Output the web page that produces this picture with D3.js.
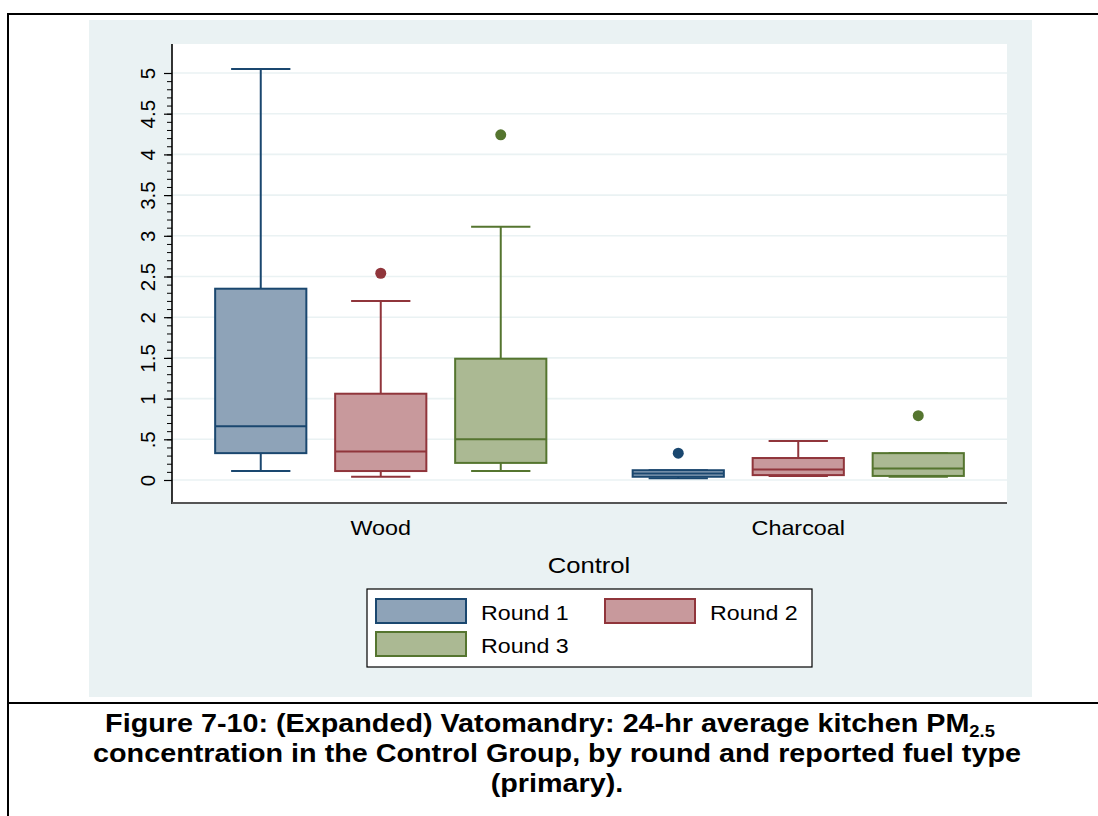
<!DOCTYPE html>
<html><head><meta charset="utf-8">
<script src="https://cdn.jsdelivr.net/npm/d3@7"></script>
<style>body{margin:0;background:#fff}svg{display:block}text{font-family:"Liberation Sans",Arial,sans-serif}</style>
</head><body><svg id="c" width="1098" height="816"></svg>
<script>
const fuels = ["Wood", "Charcoal"];
const rounds = ["Round 1", "Round 2", "Round 3"];
// [lowerWhisker, Q1, median, Q3, upperWhisker]
const woodStats = [[0.11,0.33,0.66,2.35,5.05],[0.04,0.11,0.35,1.06,2.20],[0.11,0.21,0.50,1.49,3.11]];
const charcoalStats = [[0.02,0.04,0.08,0.12,0.12],[0.05,0.06,0.13,0.27,0.48],[0.04,0.05,0.14,0.33,0.33]];
const woodOutliers = [[],[2.54],[4.24]];
const charcoalOutliers = [[0.33],[],[0.79]];
const yTicks = [0,0.5,1,1.5,2,2.5,3,3.5,4,4.5,5];
const yTickLabels = ["0",".5","1","1.5","2","2.5","3","3.5","4","4.5","5"];
const strokeColors = ["#1a476f","#90353b","#55752f"];
const fillColors = ["#8ea3b8","#c8999c","#abb993"];
const captionLines = ["concentration in the Control Group, by round and reported fuel type","(primary)."];

const SX = 1.15;
const svg = d3.select("#c");
function stext(x, y, size, anchor, txt, weight) {
  return svg.append("text").attr("transform", `translate(${x},${y}) scale(${SX},1)`)
    .attr("text-anchor", anchor).attr("font-size", size).attr("font-weight", weight || "normal").text(txt);
}
// outer frame
svg.append("rect").attr("x",89).attr("y",20).attr("width",943).attr("height",677).attr("fill","#eaf2f3");
svg.append("line").attr("x1",8).attr("x2",1098).attr("y1",14).attr("y2",14).attr("stroke","#000").attr("stroke-width",2);
svg.append("line").attr("x1",8).attr("x2",8).attr("y1",13).attr("y2",816).attr("stroke","#000").attr("stroke-width",2);
svg.append("line").attr("x1",8).attr("x2",1098).attr("y1",703).attr("y2",703).attr("stroke","#000").attr("stroke-width",2);

const L=172,R=1007,T=44,B=503;
svg.append("rect").attr("x",L).attr("y",T).attr("width",R-L).attr("height",B-T).attr("fill","#fff");
const y = d3.scaleLinear().domain([0,5]).range([480,73]);
const xOuter = d3.scalePoint().domain(fuels).range([L,R]).padding(0.5);
const xInner = d3.scaleBand().domain(rounds).range([-180,180]).paddingInner(0.24).paddingOuter(0.12);

// gridlines
svg.append("g").selectAll("line").data(yTicks).join("line")
  .attr("x1",L).attr("x2",R).attr("y1",d=>y(d)).attr("y2",d=>y(d))
  .attr("stroke","#eaf2f3").attr("stroke-width",1.6);

// y axis
const yMinor = d3.range(0,51).map(i=>i/10);
const gy = svg.append("g").attr("transform",`translate(${L},0)`);
gy.call(d3.axisLeft(y).tickValues(yMinor).tickSize(5).tickFormat(""));
gy.select(".domain").remove();
gy.selectAll(".tick line").attr("stroke","#000").attr("stroke-width",1);
const gy2 = svg.append("g").attr("transform",`translate(${L},0)`);
gy2.call(d3.axisLeft(y).tickValues(yTicks).tickSize(8).tickFormat((d,i)=>yTickLabels[i]));
gy2.select(".domain").remove();
gy2.selectAll(".tick line").attr("stroke","#000").attr("stroke-width",1.2);
gy2.selectAll(".tick text").attr("font-size",20.5).attr("fill","#000")
  .attr("font-family","'Liberation Sans',Arial,sans-serif")
  .attr("transform","translate(-24,0) rotate(-90)").attr("x",0).attr("dy","0.35em").attr("text-anchor","middle");
svg.append("line").attr("x1",L).attr("x2",L).attr("y1",T).attr("y2",B+1).attr("stroke","#000").attr("stroke-width",1.6);
svg.append("line").attr("x1",L).attr("x2",R).attr("y1",B).attr("y2",B).attr("stroke","#555").attr("stroke-width",2);

// boxes
const allStats = [woodStats, charcoalStats];
const allOut = [woodOutliers, charcoalOutliers];
const bw = xInner.bandwidth(), cap = bw*0.65;
fuels.forEach((f,fi)=>{
  const g = svg.append("g").attr("transform",`translate(${xOuter(f)},0)`);
  rounds.forEach((r,ri)=>{
    const s = allStats[fi][ri];
    const x0 = xInner(r), cx = x0+bw/2;
    const col = strokeColors[ri];
    g.append("line").attr("x1",cx).attr("x2",cx).attr("y1",y(s[3])).attr("y2",y(s[4])).attr("stroke",col).attr("stroke-width",2);
    g.append("line").attr("x1",cx).attr("x2",cx).attr("y1",y(s[1])).attr("y2",y(s[0])).attr("stroke",col).attr("stroke-width",2);
    g.append("line").attr("x1",cx-cap/2).attr("x2",cx+cap/2).attr("y1",y(s[4])).attr("y2",y(s[4])).attr("stroke",col).attr("stroke-width",2);
    g.append("line").attr("x1",cx-cap/2).attr("x2",cx+cap/2).attr("y1",y(s[0])).attr("y2",y(s[0])).attr("stroke",col).attr("stroke-width",2);
    g.append("rect").attr("x",x0).attr("width",bw).attr("y",y(s[3])).attr("height",Math.max(0,y(s[1])-y(s[3])))
      .attr("fill",fillColors[ri]).attr("stroke",col).attr("stroke-width",2);
    g.append("line").attr("x1",x0).attr("x2",x0+bw).attr("y1",y(s[2])).attr("y2",y(s[2])).attr("stroke",col).attr("stroke-width",2);
    allOut[fi][ri].forEach(o=>{
      g.append("circle").attr("cx",cx).attr("cy",y(o)).attr("r",5.5).attr("fill",col);
    });
  });
  stext(xOuter(f), 535, 20.3, "middle", f);
});
stext(589, 573, 22.3, "middle", "Control");

// legend
svg.append("rect").attr("x",367).attr("y",589).attr("width",445).attr("height",78).attr("fill","#fff").attr("stroke","#000").attr("stroke-width",1.2);
const legPos = [[376,599],[605,599],[376,632]];
rounds.forEach((r,i)=>{
  const [lx,ly]=legPos[i];
  svg.append("rect").attr("x",lx).attr("y",ly).attr("width",90).attr("height",24).attr("fill",fillColors[i]).attr("stroke",strokeColors[i]).attr("stroke-width",2);
  stext(lx+105, ly+21, 20.2, "start", r);
});

// caption
const cap1 = stext(550, 732, 25, "middle", null, "bold");
cap1.append("tspan").text("Figure 7-10: (Expanded) Vatomandry: 24-hr average kitchen PM");
cap1.append("tspan").attr("font-size",16).attr("dy",5).text("2.5");
captionLines.forEach((t,i)=>{
  stext(557, 762+i*30, 25, "middle", t, "bold");
});
</script></body></html>
